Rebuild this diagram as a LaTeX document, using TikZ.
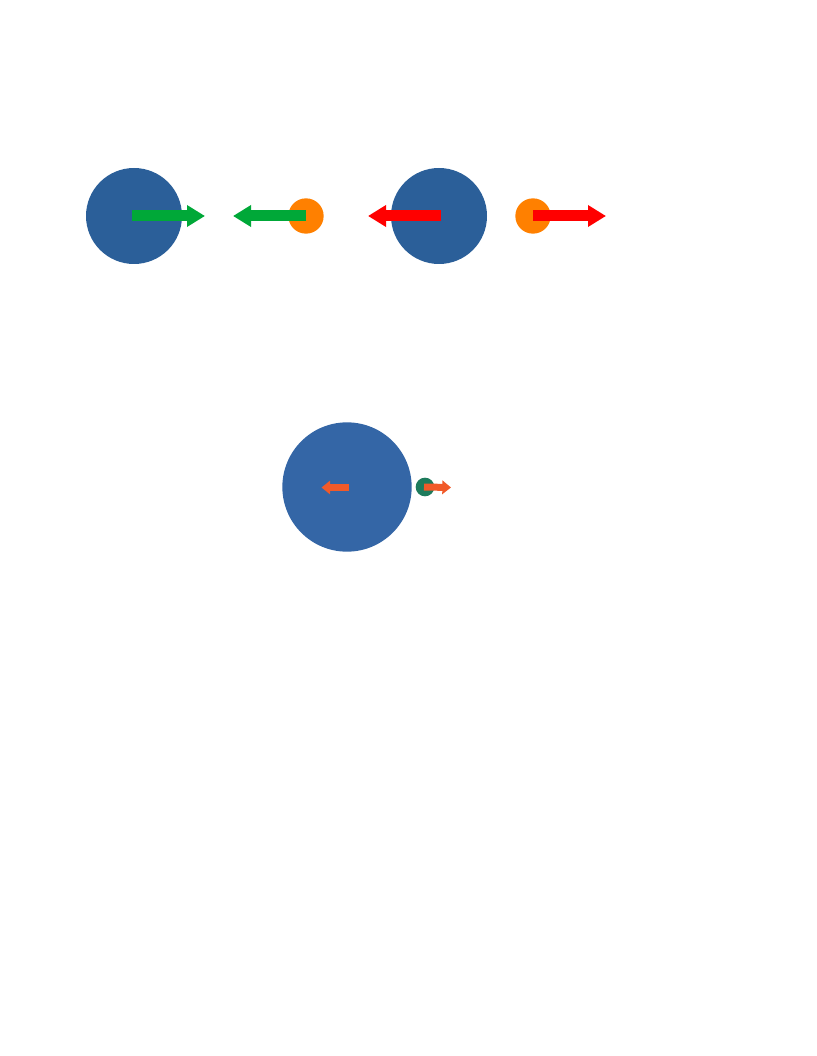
\documentclass[tikz,border=0pt]{standalone}
\usetikzlibrary{arrows.meta}
\definecolor{bluea}{HTML}{2B5F99}
\definecolor{blueb}{HTML}{3466A6}
\definecolor{greenc}{HTML}{00A838}
\definecolor{orangec}{HTML}{FF8000}
\definecolor{redc}{HTML}{FF0000}
\definecolor{tealc}{HTML}{1E7B5C}
\definecolor{orred}{HTML}{F15A29}
\begin{document}
\begin{tikzpicture}[x=0.75bp,y=-0.75bp,
  ball/.style={circle,fill=#1,draw=none,inner sep=0pt},
  bigarrow/.style={draw=#1,line width=8.25bp,-{Triangle[length=13.5bp,width=15.5bp,fill=#1]}},
  smallarrow/.style={draw=#1,line width=5.25bp,-{Triangle[length=6.5bp,width=10bp,fill=#1]}}]
\useasboundingbox (0,0) rectangle (816,1056);
% top row
\node[ball=bluea,minimum size=72bp] (b1) at (134,216) {};
\node[ball=orangec,minimum size=26.5bp] (o1) at (306,216) {};
\node[ball=bluea,minimum size=72bp] (b2) at (439,216) {};
\node[ball=orangec,minimum size=26.5bp] (o2) at (533,216) {};
\coordinate (g1t) at (205,216);
\coordinate (g2t) at (233,216);
\coordinate (r1t) at (368,216);
\coordinate (r2t) at (606,216);
\draw[bigarrow=greenc] ([xshift=-1.5bp]b1.center) -- (g1t);
\draw[bigarrow=greenc] (o1.center) -- (g2t);
\draw[bigarrow=redc] ([xshift=1.5bp]b2.center) -- (r1t);
\draw[bigarrow=redc] (o2.center) -- (r2t);
% bottom
\node[ball=blueb,minimum size=97bp] (b3) at (347,487) {};
\node[ball=tealc,minimum size=14bp] (t1) at (425,487) {};
\coordinate (s1s) at (349,487.5);
\coordinate (s1t) at (321.5,487.5);
\coordinate (s2t) at (451,487.5);
\draw[smallarrow=orred] (s1s) -- (s1t);
\draw[smallarrow=orred] ([xshift=-0.75bp]t1.center) -- (s2t);
\end{tikzpicture}
\end{document}
